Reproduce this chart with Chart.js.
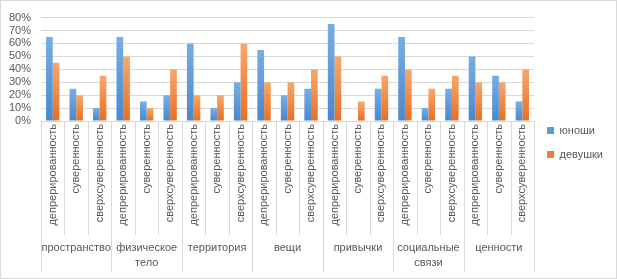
<!DOCTYPE html>
<html>
<head>
<meta charset="utf-8">
<script src="https://cdn.jsdelivr.net/npm/chart.js@4/dist/chart.umd.min.js"></script>
<style>
  body { margin: 0; background: #fff; }
  #wrap { width: 615px; height: 277px; border: 1px solid #d9d9d9; }
</style>
</head>
<body>
<div id="wrap"><canvas id="chart" width="615" height="277"></canvas></div>
<script>
const subLabels = ['депрерированность', 'суверенность', 'сверхсуверенность'];
const groups = [['пространство'], ['физическое', 'тело'], ['территория'], ['вещи'], ['привычки'], ['социальные', 'связи'], ['ценности']];
const categories = groups.flatMap(() => subLabels);

const boys = [65, 25, 10, 65, 15, 20, 60, 10, 30, 55, 20, 25, 75, 0, 25, 65, 10, 25, 50, 35, 15];
const girls = [45, 20, 35, 50, 10, 40, 20, 20, 60, 30, 30, 40, 50, 15, 35, 40, 25, 35, 30, 30, 40];

const yTicks = [0, 10, 20, 30, 40, 50, 60, 70, 80];

const textColor = '#595959';
const lineColor = '#d9d9d9';
const font = { family: 'Liberation Sans', size: 11 };

function barGradient(top, bottom) {
    return function(ctx) {
        const chart = ctx.chart;
        if (!chart.chartArea || ctx.raw === undefined) return bottom;
        const y = chart.scales.y;
        const y0 = y.getPixelForValue(ctx.raw);
        const y1 = y.getPixelForValue(0);
        if (y1 - y0 < 1) return bottom;
        const g = chart.ctx.createLinearGradient(0, y0, 0, y1);
        g.addColorStop(0, top);
        g.addColorStop(1, bottom);
        return g;
    };
}

// separator lines under the axis, between categories and between groups
const separators = {
    id: 'separators',
    afterDraw(chart) {
        const xs = chart.scales.x;
        const x2 = chart.scales.x2;
        const c = chart.ctx;
        const step = xs.getPixelForValue(1) - xs.getPixelForValue(0);
        c.save();
        c.strokeStyle = lineColor;
        c.lineWidth = 1;
        for (let i = 0; i <= categories.length; i++) {
            const px = Math.round(xs.getPixelForValue(0) - step / 2 + i * step) + 0.5;
            const bottom = i % 3 === 0 ? x2.bottom - 5 : xs.bottom;
            c.beginPath();
            c.moveTo(px, chart.chartArea.bottom);
            c.lineTo(px, bottom);
            c.stroke();
        }
        c.restore();
    }
};

function fixedHeight(h) {
    return function(scale) {
        scale.paddingLeft = 0;
        scale.paddingRight = 0;
        scale.height = h;
    };
}

new Chart(document.getElementById('chart'), {
    type: 'bar',
    data: {
        labels: categories,
        datasets: [{
            label: 'юноши',
            data: boys,
            backgroundColor: barGradient('#78aee2', '#4a88cc'),
            categoryPercentage: 0.57,
            barPercentage: 1
        }, {
            label: 'девушки',
            data: girls,
            backgroundColor: barGradient('#f6a86e', '#e96f20'),
            categoryPercentage: 0.57,
            barPercentage: 1
        }]
    },
    options: {
        responsive: false,
        animation: false,
        layout: { padding: { top: 7, left: 8, right: 3, bottom: 1 } },
        plugins: {
            tooltip: { enabled: false },
            legend: {
                position: 'right',
                labels: {
                    font: font,
                    color: textColor,
                    boxWidth: 7,
                    boxHeight: 7,
                    padding: 13,
                    generateLabels: function(chart) {
                        const colors = ['#5b9bd5', '#ed7d31'];
                        return chart.data.datasets.map((d, i) => ({
                            text: d.label,
                            fillStyle: colors[i],
                            strokeStyle: colors[i],
                            lineWidth: 0,
                            fontColor: textColor,
                            datasetIndex: i
                        }));
                    }
                }
            }
        },
        scales: {
            y: {
                min: 0,
                max: 80,
                afterBuildTicks: function(scale) {
                    scale.ticks = yTicks.map(v => ({ value: v }));
                },
                afterFit: function(scale) {
                    scale.width = 32;
                },
                ticks: {
                    font: font,
                    color: textColor,
                    padding: 10,
                    autoSkip: false,
                    callback: v => v + '%'
                },
                grid: { color: lineColor, drawTicks: false },
                border: { display: false }
            },
            x: {
                afterFit: fixedHeight(114),
                ticks: {
                    font: font,
                    color: textColor,
                    minRotation: 90,
                    maxRotation: 90,
                    autoSkip: false,
                    padding: 3
                },
                grid: { display: false, drawTicks: false },
                border: { display: true, color: lineColor }
            },
            x2: {
                type: 'category',
                labels: groups,
                position: 'bottom',
                offset: true,
                afterFit: fixedHeight(42),
                ticks: {
                    font: { family: 'Liberation Sans', size: 11, lineHeight: 1.35 },
                    color: textColor,
                    maxRotation: 0,
                    autoSkip: false,
                    padding: 6
                },
                grid: { display: false, drawTicks: false },
                border: { display: false }
            }
        }
    },
    plugins: [separators]
});
</script>
</body>
</html>
